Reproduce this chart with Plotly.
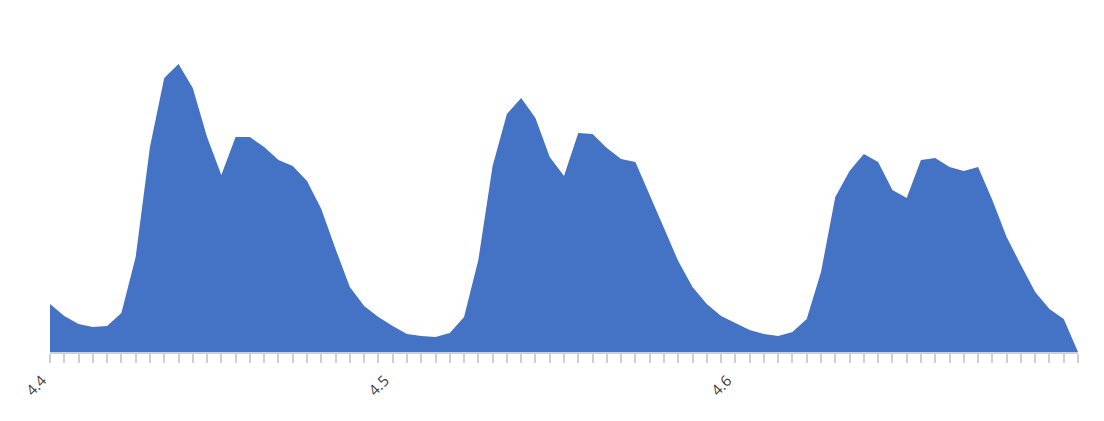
import plotly.graph_objects as go

values = [48, 36, 28, 25, 26, 39, 95, 205, 274, 288, 264, 215, 177, 215, 215, 205, 192, 186,
          171, 143, 103, 65, 46, 35, 26, 18, 16, 15, 19, 35, 92, 186, 238, 254, 234, 195,
          176, 219, 218, 204, 193, 190, 157, 124, 91, 65, 48, 36, 29, 22, 18, 16, 20, 33,
          80, 155, 181, 198, 190, 162, 154, 192, 194, 185, 181, 185, 152, 115, 87, 60, 43, 33, 0]
tick_positions = [0, 24, 48]
tick_labels = ["4.4", "4.5", "4.6"]

x = list(range(len(values)))

fig = go.Figure(go.Scatter(
    x=x, y=values, mode="lines", fill="tozeroy",
    line=dict(color="#4472C4", width=0), fillcolor="#4472C4",
    hoverinfo="x+y"))

fig.update_layout(
    width=1104, height=421,
    margin=dict(l=42, r=34, t=12, b=77),
    paper_bgcolor="white", plot_bgcolor="white",
    showlegend=False,
    font=dict(family="Open Sans", size=15, color="#404040"),
    xaxis=dict(
        automargin=False,
        range=[0, len(values) - 1], showgrid=False, zeroline=False,
        showline=True, linecolor="#D0D0D0", linewidth=2,
        tickmode="array", tickvals=tick_positions, ticktext=tick_labels,
        ticks="outside", ticklen=9, tickcolor="#D0D0D0", tickwidth=2,
        tickangle=-45, ticklabelshift=-8, ticklabelstandoff=3,
        minor=dict(dtick=1, tick0=0, ticks="outside", ticklen=9, tickcolor="#D0D0D0", tickwidth=2, showgrid=False),
    ),
    yaxis=dict(range=[0, 332], visible=False, automargin=False),
)

fig.write_html("out.html")
